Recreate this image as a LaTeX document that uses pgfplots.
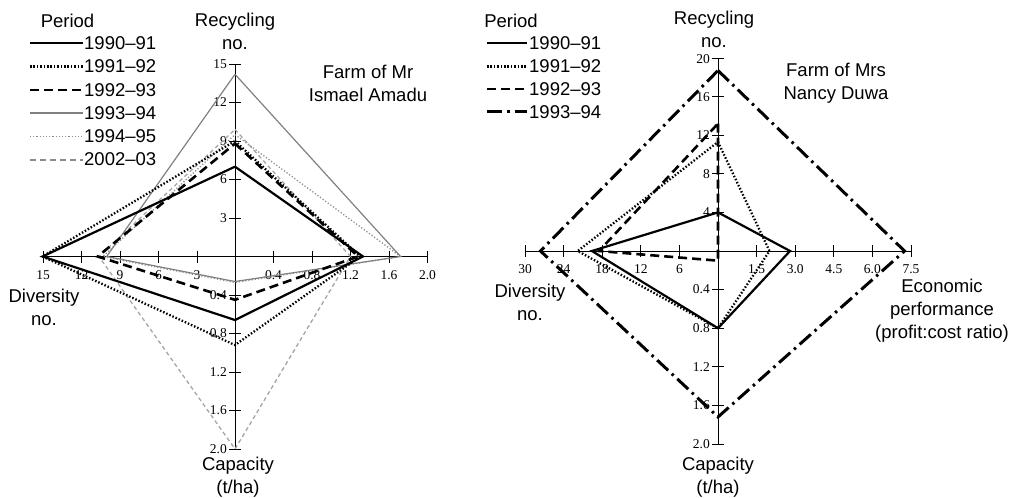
\documentclass[border=0pt]{standalone}
\usepackage{pgfplots}
\pgfplotsset{compat=1.18}
\usepackage{pgfplotstable}
\usepackage{fontspec}
\setmainfont{Liberation Sans}
\newfontfamily\tickfont{Liberation Serif}

% x>0: economic performance, x<0: diversity; y>0: recycling, y<0: capacity
\pgfplotstableread{
x y
0 7
1.33 0
0 -0.66
-15 0
0 7
}\LA
\pgfplotstableread{
x y
0 9
1.3 0
0 -0.92
-15 0
0 9
}\LB
\pgfplotstableread{
x y
0 8.8
1.28 0
0 -0.45
-10.7 0
0 8.8
}\LC
\pgfplotstableread{
x y
0 14.2
1.72 0
0 -0.26
-10 0
0 14.2
}\LD
\pgfplotstableread{
x y
0 9.5
1.72 0
0 -0.27
-10.3 0
0 9.5
}\LE
\pgfplotstableread{
x y
0 9.9
1.2 0
0 -2.0
-10.6 0
0 9.9
}\LF
\pgfplotstableread{
x y
0 4
2.8 0
0 -0.8
-19.6 0
0 4
}\RA
\pgfplotstableread{
x y
0 11.3
2.0 0
0 -0.8
-21.8 0
0 11.3
}\RB
\pgfplotstableread{
x y
0 13.2
0 0
0 -0.1
-18.5 0
0 13.2
}\RC
\pgfplotstableread{
x y
0 18.7
7.25 0
0 -1.72
-27.6 0
0 18.7
}\RD

\pgfplotsset{
  /pgfplots/table/radar/.style n args={7}{
    x expr={#1+((\thisrow{x}>0) ? (\thisrow{x}*#3/#5) : (\thisrow{x}*#3/#7))},
    y expr={#2-((\thisrow{y}>0) ? (\thisrow{y}*#3/#4) : (\thisrow{y}*#3/#6))}},
  /pgfplots/table/lmap/.style={radar={235}{256.5}{192.5}{15}{2}{2}{15}},
  /pgfplots/table/rmap/.style={radar={718}{251}{193}{20}{7.5}{2}{30}},
}

\tikzset{
  s9091/.style={black, line width=2.2bp, solid},
  s9192/.style={black, line width=2.3bp, dash pattern=on 1.5bp off 1.9bp},
  s9293/.style={black, line width=2.6bp, dash pattern=on 9bp off 5bp},
  s9394g/.style={black!50, line width=1.2bp, solid},
  s9495/.style={black!45, line width=1.3bp, dash pattern=on 1.2bp off 2bp},
  s0203/.style={black!35, line width=1.3bp, dash pattern=on 4bp off 3bp},
  s9394d/.style={black, line width=3bp, dash pattern=on 15bp off 5bp on 2.5bp off 5bp},
  ax/.style={black, line width=0.9bp},
  tl/.style={font=\tickfont\fontsize{13.5bp}{15bp}\selectfont, inner sep=0pt},
  tt/.style={font=\fontsize{18.5bp}{23bp}\selectfont, align=center, inner sep=0pt},
}

\begin{document}
\begin{tikzpicture}
\begin{axis}[width=1023bp, height=498bp, scale only axis,
  xmin=0, xmax=1023, ymin=0, ymax=498, y dir=reverse,
  hide axis, clip=false]
\path (rel axis cs:0,0) rectangle (rel axis cs:1,1);

% ---------- left chart axes ----------
\draw[ax] (43,256.5) -- (427.5,256.5);
\draw[ax] (235,64) -- (235,449);
\foreach \t in {43,81.5,120,158.5,197,273.5,312,350.5,389,427.5}
  {\edef\tmp{\noexpand\draw[ax] (\t,250.5) -- (\t,262.5);}\tmp}
\foreach \t in {64,102.5,141,179.5,218,295,333.5,372,410.5,449}
  {\edef\tmp{\noexpand\draw[ax] (229,\t) -- (241,\t);}\tmp}
\node[tl] at (43,275) {15};
\node[tl] at (81.5,275) {12};
\node[tl] at (120,275) {9};
\node[tl] at (158.5,275) {6};
\node[tl] at (197,275) {3};
\node[tl] at (273.5,275) {0.4};
\node[tl] at (312,275) {0.8};
\node[tl] at (350.5,275) {1.2};
\node[tl] at (389,275) {1.6};
\node[tl] at (427.5,275) {2.0};
\node[tl, anchor=east] at (227,64) {15};
\node[tl, anchor=east] at (227,102.5) {12};
\node[tl, anchor=east] at (227,141) {9};
\node[tl, anchor=east] at (227,179.5) {6};
\node[tl, anchor=east] at (227,218) {3};
\node[tl, anchor=east] at (227,295) {0.4};
\node[tl, anchor=east] at (227,333.5) {0.8};
\node[tl, anchor=east] at (227,372) {1.2};
\node[tl, anchor=east] at (227,410.5) {1.6};
\node[tl, anchor=east] at (227,449) {2.0};

% ---------- right chart axes ----------
\draw[ax] (525,251) -- (911,251);
\draw[ax] (718,58) -- (718,444);
\foreach \t in {525,563.6,602.2,640.8,679.4,756.6,795.2,833.8,872.4,911}
  {\edef\tmp{\noexpand\draw[ax] (\t,245) -- (\t,257);}\tmp}
\foreach \t in {58,96.6,135.2,173.8,212.4,289.6,328.2,366.8,405.4,444}
  {\edef\tmp{\noexpand\draw[ax] (712,\t) -- (724,\t);}\tmp}
\node[tl] at (525,269) {30};
\node[tl] at (563.6,269) {24};
\node[tl] at (602.2,269) {18};
\node[tl] at (640.8,269) {12};
\node[tl] at (679.4,269) {6};
\node[tl] at (756.6,269) {1.5};
\node[tl] at (795.2,269) {3.0};
\node[tl] at (833.8,269) {4.5};
\node[tl] at (872.4,269) {6.0};
\node[tl] at (911,269) {7.5};
\node[tl, anchor=east] at (710,59) {20};
\node[tl, anchor=east] at (710,96.6) {16};
\node[tl, anchor=east] at (710,135.2) {12};
\node[tl, anchor=east] at (710,173.8) {8};
\node[tl, anchor=east] at (710,212.4) {4};
\node[tl, anchor=east] at (710,289.6) {0.4};
\node[tl, anchor=east] at (710,328.2) {0.8};
\node[tl, anchor=east] at (710,366.8) {1.2};
\node[tl, anchor=east] at (710,405.4) {1.6};
\node[tl, anchor=east] at (710,444) {2.0};

% ---------- data ----------
\addplot[s0203] table[lmap] {\LF};
\addplot[s9495] table[lmap] {\LE};
\addplot[s9394g] table[lmap] {\LD};
\addplot[s9293] table[lmap] {\LC};
\addplot[s9192] table[lmap] {\LB};
\addplot[s9091] table[lmap] {\LA};

\addplot[s9394d] table[rmap] {\RD};
\addplot[s9293] table[rmap] {\RC};
\addplot[s9192] table[rmap] {\RB};
\addplot[s9091] table[rmap] {\RA};

% ---------- titles ----------
\node[tt] at (235,31) {Recycling\\no.};
\node[tt] at (368,83) {Farm of Mr\\Ismael Amadu};
\node[tt] at (44,307) {Diversity\\no.};
\node[tt] at (238,477) {Capacity\\(t/ha)};

\node[tt] at (714,29.5) {Recycling\\no.};
\node[tt] at (836,83) {Farm of Mrs\\Nancy Duwa};
\node[tt] at (530,302) {Diversity\\no.};
\node[tt] at (942,311) {Economic\\performance\\(profit:cost ratio)};
\node[tt] at (718,477) {Capacity\\(t/ha)};

% ---------- legends ----------
\node[tt] at (67.5,21) {Period};
\draw[s9091] (30,43) -- (83,43);
\draw[s9192] (30,66.5) -- (83,66.5);
\draw[s9293] (30,90) -- (83,90);
\draw[black!50, line width=2bp] (30,113) -- (83,113);
\draw[black!45, line width=1.5bp, dash pattern=on 1.2bp off 2bp] (30,136.5) -- (83,136.5);
\draw[black!45, line width=2bp, dash pattern=on 6bp off 4bp] (30,159.5) -- (83,159.5);
\node[tt, anchor=west] at (84,43) {1990--91};
\node[tt, anchor=west] at (84,66.5) {1991--92};
\node[tt, anchor=west] at (84,90) {1992--93};
\node[tt, anchor=west] at (84,113) {1993--94};
\node[tt, anchor=west] at (84,136.5) {1994--95};
\node[tt, anchor=west] at (84,159.5) {2002--03};

\node[tt] at (511,21) {Period};
\draw[s9091] (487,43) -- (527,43);
\draw[s9192] (487,66.5) -- (527,66.5);
\draw[s9293] (487,89) -- (527,89);
\draw[s9394d] (487,112) -- (527,112);
\node[tt, anchor=west] at (529,43) {1990--91};
\node[tt, anchor=west] at (529,66.5) {1991--92};
\node[tt, anchor=west] at (529,89) {1992--93};
\node[tt, anchor=west] at (529,112) {1993--94};
\end{axis}
\end{tikzpicture}
\end{document}
